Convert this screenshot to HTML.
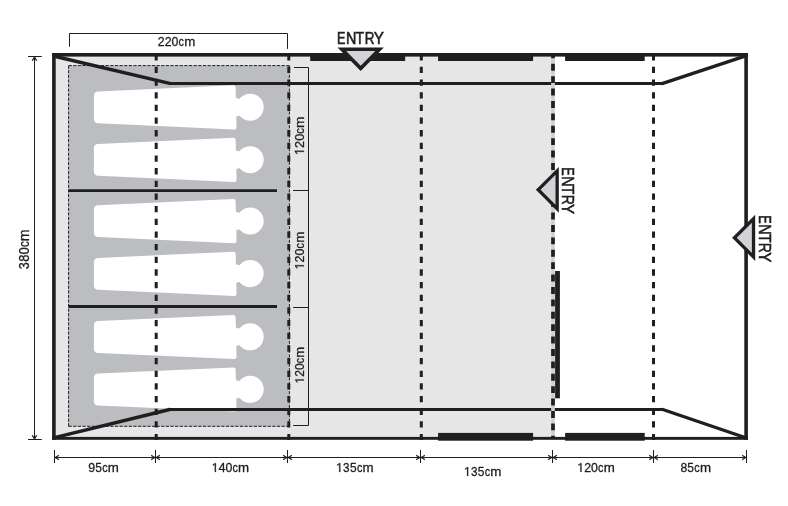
<!DOCTYPE html>
<html><head><meta charset="utf-8"><style>html,body{margin:0;padding:0;background:#fff;width:788px;height:506px;overflow:hidden}svg{display:block;will-change:transform}</style></head>
<body>
<svg width="788" height="506" viewBox="0 0 788 506">
<rect width="788" height="506" fill="#fff"/>
<rect x="54" y="55" width="497.5" height="383" fill="#e6e6e6"/>
<rect x="68.6" y="65.6" width="220.4" height="360.7" fill="#bcbdc1"/>
<path d="M98.20,91.50 L233.20,85.31 Q235.60,85.20 235.65,87.60 L236.55,127.20 Q236.60,129.60 234.20,129.49 L98.20,123.30 Q93.90,123.10 93.90,118.80 L93.90,96.00 Q93.90,91.70 98.20,91.50Z" fill="#fff"/><path d="M235.6,97.60 Q237.6,98.80 240,99.00 L240,115.40 Q237.6,115.60 236.2,116.80Z" fill="#fff"/><circle cx="250.15" cy="107.2" r="13.55" fill="#fff"/>
<path d="M98.20,144.00 L233.20,137.81 Q235.60,137.70 235.65,140.10 L236.55,179.70 Q236.60,182.10 234.20,181.99 L98.20,175.80 Q93.90,175.60 93.90,171.30 L93.90,148.50 Q93.90,144.20 98.20,144.00Z" fill="#fff"/><path d="M235.6,150.10 Q237.6,151.30 240,151.50 L240,167.90 Q237.6,168.10 236.2,169.30Z" fill="#fff"/><circle cx="250.15" cy="159.7" r="13.55" fill="#fff"/>
<path d="M98.20,205.30 L233.20,199.11 Q235.60,199.00 235.65,201.40 L236.55,241.00 Q236.60,243.40 234.20,243.29 L98.20,237.10 Q93.90,236.90 93.90,232.60 L93.90,209.80 Q93.90,205.50 98.20,205.30Z" fill="#fff"/><path d="M235.6,211.40 Q237.6,212.60 240,212.80 L240,229.20 Q237.6,229.40 236.2,230.60Z" fill="#fff"/><circle cx="250.15" cy="221.0" r="13.55" fill="#fff"/>
<path d="M98.20,257.90 L233.20,251.71 Q235.60,251.60 235.65,254.00 L236.55,293.60 Q236.60,296.00 234.20,295.89 L98.20,289.70 Q93.90,289.50 93.90,285.20 L93.90,262.40 Q93.90,258.10 98.20,257.90Z" fill="#fff"/><path d="M235.6,264.00 Q237.6,265.20 240,265.40 L240,281.80 Q237.6,282.00 236.2,283.20Z" fill="#fff"/><circle cx="250.15" cy="273.6" r="13.55" fill="#fff"/>
<path d="M98.20,321.10 L233.20,314.91 Q235.60,314.80 235.65,317.20 L236.55,356.80 Q236.60,359.20 234.20,359.09 L98.20,352.90 Q93.90,352.70 93.90,348.40 L93.90,325.60 Q93.90,321.30 98.20,321.10Z" fill="#fff"/><path d="M235.6,327.20 Q237.6,328.40 240,328.60 L240,345.00 Q237.6,345.20 236.2,346.40Z" fill="#fff"/><circle cx="250.15" cy="336.8" r="13.55" fill="#fff"/>
<path d="M98.20,373.60 L233.20,367.41 Q235.60,367.30 235.65,369.70 L236.55,409.30 Q236.60,411.70 234.20,411.59 L98.20,405.40 Q93.90,405.20 93.90,400.90 L93.90,378.10 Q93.90,373.80 98.20,373.60Z" fill="#fff"/><path d="M235.6,379.70 Q237.6,380.90 240,381.10 L240,397.50 Q237.6,397.70 236.2,398.90Z" fill="#fff"/><circle cx="250.15" cy="389.3" r="13.55" fill="#fff"/>
<line x1="68.6" y1="190.6" x2="277" y2="190.6" stroke="#201f20" stroke-width="2.8"/>
<line x1="68.6" y1="306.5" x2="277" y2="306.5" stroke="#201f20" stroke-width="2.8"/>
<line x1="68.6" y1="65.6" x2="289.4" y2="65.6" stroke="#201f20" stroke-width="1" stroke-dasharray="3.220 1.409"/>
<line x1="68.6" y1="65.6" x2="68.6" y2="426.3" stroke="#201f20" stroke-width="1" stroke-dasharray="3.189 1.395"/>
<line x1="68.6" y1="426.3" x2="289.4" y2="426.3" stroke="#201f20" stroke-width="1" stroke-dasharray="3.220 1.409"/>
<line x1="289.4" y1="65.6" x2="289.4" y2="426.3" stroke="#201f20" stroke-width="1" stroke-dasharray="3.189 1.395"/>
<line x1="169.6" y1="83.45" x2="662.8" y2="83.45" stroke="#201f20" stroke-width="2.9"/>
<line x1="169.6" y1="409.5" x2="662.8" y2="409.5" stroke="#201f20" stroke-width="2.9"/>
<path d="M55.5,56.5 L169.6,83.45 M662.8,83.45 L745,56.2 M55.5,437.3 L169.6,409.5 M662.8,409.5 L745,437.5" fill="none" stroke="#201f20" stroke-width="3.4" stroke-linecap="round"/>
<line x1="156.2" y1="54.15" x2="156.2" y2="440" stroke="#201f20" stroke-width="3" stroke-dasharray="6.3 6.360" stroke-dashoffset="0.000"/>
<line x1="288.8" y1="54.15" x2="288.8" y2="440" stroke="#201f20" stroke-width="3" stroke-dasharray="6.3 6.360" stroke-dashoffset="0.000"/>
<line x1="421.3" y1="54.15" x2="421.3" y2="440" stroke="#201f20" stroke-width="3" stroke-dasharray="6.3 6.360" stroke-dashoffset="0.000"/>
<line x1="653.5" y1="54.15" x2="653.5" y2="440" stroke="#201f20" stroke-width="3" stroke-dasharray="6.3 6.360" stroke-dashoffset="0.000"/>
<line x1="553" y1="57" x2="553" y2="437" stroke="#d0d0d0" stroke-width="3.7"/>
<line x1="553" y1="55" x2="553" y2="439" stroke="#201f20" stroke-width="3.7" stroke-dasharray="6.9 5.500" stroke-dashoffset="3.600"/>
<rect x="52.1" y="53" width="695.9" height="3.6" fill="#201f20"/>
<rect x="52.1" y="436.9" width="695.9" height="2.9" fill="#201f20"/>
<rect x="52.1" y="53" width="3.6" height="386.8" fill="#201f20"/>
<rect x="744.3" y="53" width="3.6" height="386.8" fill="#201f20"/>
<rect x="310.2" y="53" width="95" height="8.0" fill="#201f20"/>
<rect x="438.1" y="53" width="95" height="8.0" fill="#201f20"/>
<rect x="565.1" y="53" width="79.6" height="8.0" fill="#201f20"/>
<rect x="438.1" y="432.9" width="95" height="7.8" fill="#201f20"/>
<rect x="565.1" y="432.9" width="79.6" height="7.8" fill="#201f20"/>
<rect x="555.1" y="271" width="4.8" height="127.3" fill="#201f20"/>
<polygon points="383.85,47.40 337.55,47.40 360.70,70.90" fill="#201f20"/><polygon points="375.29,51.00 346.11,51.00 360.70,65.81" fill="#d3d2d6"/>
<polygon points="558.80,212.70 558.80,166.90 535.90,189.80" fill="#201f20"/><polygon points="555.50,204.73 555.50,174.87 540.57,189.80" fill="#d3d2d6"/>
<polygon points="755.20,260.90 755.20,214.70 732.10,237.80" fill="#201f20"/><polygon points="751.90,252.93 751.90,222.67 736.77,237.80" fill="#d3d2d6"/>
<polyline points="69.5,46.8 69.5,33.5 287.5,33.5 287.5,48.9" fill="none" stroke="#201f20" stroke-width="1"/>
<line x1="34.5" y1="56.5" x2="34.5" y2="439.5" stroke="#201f20" stroke-width="1"/>
<line x1="28" y1="56.5" x2="41.8" y2="56.5" stroke="#201f20" stroke-width="1"/>
<line x1="28" y1="439.5" x2="41.8" y2="439.5" stroke="#201f20" stroke-width="1"/>
<path d="M36.90,60.80 L34.50,57.00 L32.10,60.80" fill="none" stroke="#201f20" stroke-width="1.05"/><path d="M34.50,57.00 L35.94,60.80 L34.50,59.40 L33.06,60.80Z" fill="#201f20"/>
<path d="M32.10,435.20 L34.50,439.00 L36.90,435.20" fill="none" stroke="#201f20" stroke-width="1.05"/><path d="M34.50,439.00 L33.06,435.20 L34.50,436.60 L35.94,435.20Z" fill="#201f20"/>
<polyline points="294.0,67.5 308.5,67.5 308.5,425.5 293.1,425.5" fill="none" stroke="#201f20" stroke-width="1"/>
<line x1="293.1" y1="190.5" x2="308.5" y2="190.5" stroke="#201f20" stroke-width="1"/>
<line x1="293.1" y1="307.5" x2="308.5" y2="307.5" stroke="#201f20" stroke-width="1"/>
<line x1="54.5" y1="457.5" x2="746.5" y2="457.5" stroke="#201f20" stroke-width="1"/>
<line x1="54.5" y1="450" x2="54.5" y2="463" stroke="#201f20" stroke-width="1"/>
<line x1="155.5" y1="450" x2="155.5" y2="463" stroke="#201f20" stroke-width="1"/>
<line x1="287.5" y1="450" x2="287.5" y2="463" stroke="#201f20" stroke-width="1"/>
<line x1="420.5" y1="450" x2="420.5" y2="463" stroke="#201f20" stroke-width="1"/>
<line x1="552.5" y1="450" x2="552.5" y2="463" stroke="#201f20" stroke-width="1"/>
<line x1="653.5" y1="450" x2="653.5" y2="463" stroke="#201f20" stroke-width="1"/>
<line x1="746.5" y1="450" x2="746.5" y2="463" stroke="#201f20" stroke-width="1"/>
<path d="M58.90,455.10 L55.10,457.50 L58.90,459.90" fill="none" stroke="#201f20" stroke-width="1.05"/><path d="M55.10,457.50 L58.90,456.06 L57.50,457.50 L58.90,458.94Z" fill="#201f20"/>
<path d="M151.10,459.90 L154.90,457.50 L151.10,455.10" fill="none" stroke="#201f20" stroke-width="1.05"/><path d="M154.90,457.50 L151.10,458.94 L152.50,457.50 L151.10,456.06Z" fill="#201f20"/>
<path d="M159.90,455.10 L156.10,457.50 L159.90,459.90" fill="none" stroke="#201f20" stroke-width="1.05"/><path d="M156.10,457.50 L159.90,456.06 L158.50,457.50 L159.90,458.94Z" fill="#201f20"/>
<path d="M283.10,459.90 L286.90,457.50 L283.10,455.10" fill="none" stroke="#201f20" stroke-width="1.05"/><path d="M286.90,457.50 L283.10,458.94 L284.50,457.50 L283.10,456.06Z" fill="#201f20"/>
<path d="M291.90,455.10 L288.10,457.50 L291.90,459.90" fill="none" stroke="#201f20" stroke-width="1.05"/><path d="M288.10,457.50 L291.90,456.06 L290.50,457.50 L291.90,458.94Z" fill="#201f20"/>
<path d="M416.10,459.90 L419.90,457.50 L416.10,455.10" fill="none" stroke="#201f20" stroke-width="1.05"/><path d="M419.90,457.50 L416.10,458.94 L417.50,457.50 L416.10,456.06Z" fill="#201f20"/>
<path d="M424.90,455.10 L421.10,457.50 L424.90,459.90" fill="none" stroke="#201f20" stroke-width="1.05"/><path d="M421.10,457.50 L424.90,456.06 L423.50,457.50 L424.90,458.94Z" fill="#201f20"/>
<path d="M548.10,459.90 L551.90,457.50 L548.10,455.10" fill="none" stroke="#201f20" stroke-width="1.05"/><path d="M551.90,457.50 L548.10,458.94 L549.50,457.50 L548.10,456.06Z" fill="#201f20"/>
<path d="M556.90,455.10 L553.10,457.50 L556.90,459.90" fill="none" stroke="#201f20" stroke-width="1.05"/><path d="M553.10,457.50 L556.90,456.06 L555.50,457.50 L556.90,458.94Z" fill="#201f20"/>
<path d="M649.10,459.90 L652.90,457.50 L649.10,455.10" fill="none" stroke="#201f20" stroke-width="1.05"/><path d="M652.90,457.50 L649.10,458.94 L650.50,457.50 L649.10,456.06Z" fill="#201f20"/>
<path d="M657.90,455.10 L654.10,457.50 L657.90,459.90" fill="none" stroke="#201f20" stroke-width="1.05"/><path d="M654.10,457.50 L657.90,456.06 L656.50,457.50 L657.90,458.94Z" fill="#201f20"/>
<path d="M742.10,459.90 L745.90,457.50 L742.10,455.10" fill="none" stroke="#201f20" stroke-width="1.05"/><path d="M745.90,457.50 L742.10,458.94 L743.50,457.50 L742.10,456.06Z" fill="#201f20"/>
<g font-family='"Liberation Sans", sans-serif' fill="#201f20" stroke="#201f20" stroke-width="0.3">
<g transform="translate(338.00,43.70)"><text transform="translate(-1.04,0) scale(0.7432,1.0)" font-size="17.01" stroke-width="0.6">E</text><text transform="translate(7.93,0) scale(0.8421,1.0)" font-size="17.01" stroke-width="0.6">N</text><text transform="translate(17.58,0) scale(0.8320,1.0)" font-size="17.01" stroke-width="0.6">T</text><text transform="translate(26.69,0) scale(0.7923,1.0)" font-size="17.01" stroke-width="0.6">R</text><text transform="translate(35.86,0) scale(0.8966,1.0)" font-size="17.01" stroke-width="0.6">Y</text></g>
<g transform="translate(561.90,168.20) rotate(90)"><text transform="translate(-1.04,0) scale(0.7432,1.0)" font-size="17.01" stroke-width="0.6">E</text><text transform="translate(7.93,0) scale(0.8421,1.0)" font-size="17.01" stroke-width="0.6">N</text><text transform="translate(17.58,0) scale(0.8320,1.0)" font-size="17.01" stroke-width="0.6">T</text><text transform="translate(26.69,0) scale(0.7923,1.0)" font-size="17.01" stroke-width="0.6">R</text><text transform="translate(35.86,0) scale(0.8966,1.0)" font-size="17.01" stroke-width="0.6">Y</text></g>
<g transform="translate(758.70,216.30) rotate(90)"><text transform="translate(-1.04,0) scale(0.7432,1.0)" font-size="17.01" stroke-width="0.6">E</text><text transform="translate(7.93,0) scale(0.8421,1.0)" font-size="17.01" stroke-width="0.6">N</text><text transform="translate(17.58,0) scale(0.8320,1.0)" font-size="17.01" stroke-width="0.6">T</text><text transform="translate(26.69,0) scale(0.7923,1.0)" font-size="17.01" stroke-width="0.6">R</text><text transform="translate(35.86,0) scale(0.8966,1.0)" font-size="17.01" stroke-width="0.6">Y</text></g>
<g transform="translate(157.81,45.80)"><text transform="translate(-0.03,0) scale(0.9711,1.0)" font-size="12.70">2</text><text transform="translate(6.87,0) scale(0.9711,1.0)" font-size="12.70">2</text><text transform="translate(13.80,0) scale(0.9720,1.0)" font-size="12.70">0</text><text transform="translate(20.81,0) scale(0.8568,1.0)" font-size="12.70">c</text><text transform="translate(26.37,0) scale(1.0468,1.0)" font-size="12.70">m</text></g>
<g transform="translate(29.00,269.27) rotate(-90)"><text transform="translate(0.10,0) scale(0.9264,1.07)" font-size="13.53">3</text><text transform="translate(7.43,0) scale(0.9541,1.07)" font-size="13.53">8</text><text transform="translate(14.71,0) scale(0.9720,1.07)" font-size="13.53">0</text><text transform="translate(22.18,0) scale(0.8568,1.07)" font-size="13.53">c</text><text transform="translate(28.11,0) scale(1.0468,1.07)" font-size="13.53">m</text></g>
<g transform="translate(303.90,155.06) rotate(-90)"><path transform="translate(0.05,0) scale(0.00613,-0.00638)" vector-effect="non-scaling-stroke" d="M515,0 L515,1237 L197,1010 L197,1180 L530,1409 L696,1409 L696,0 Z"/><text transform="translate(7.07,0) scale(0.9711,1.0)" font-size="13.08">2</text><text transform="translate(14.22,0) scale(0.9720,1.0)" font-size="13.08">0</text><text transform="translate(21.43,0) scale(0.8568,1.0)" font-size="13.08">c</text><text transform="translate(27.16,0) scale(1.0468,1.0)" font-size="13.08">m</text></g>
<g transform="translate(303.90,269.43) rotate(-90)"><path transform="translate(0.05,0) scale(0.00599,-0.00624)" vector-effect="non-scaling-stroke" d="M515,0 L515,1237 L197,1010 L197,1180 L530,1409 L696,1409 L696,0 Z"/><text transform="translate(6.91,0) scale(0.9711,1.0)" font-size="12.79">2</text><text transform="translate(13.90,0) scale(0.9720,1.0)" font-size="12.79">0</text><text transform="translate(20.96,0) scale(0.8568,1.0)" font-size="12.79">c</text><text transform="translate(26.56,0) scale(1.0468,1.0)" font-size="12.79">m</text></g>
<g transform="translate(303.90,383.50) rotate(-90)"><path transform="translate(0.05,0) scale(0.00583,-0.00607)" vector-effect="non-scaling-stroke" d="M515,0 L515,1237 L197,1010 L197,1180 L530,1409 L696,1409 L696,0 Z"/><text transform="translate(6.72,0) scale(0.9711,1.0)" font-size="12.43">2</text><text transform="translate(13.51,0) scale(0.9720,1.0)" font-size="12.43">0</text><text transform="translate(20.37,0) scale(0.8568,1.0)" font-size="12.43">c</text><text transform="translate(25.82,0) scale(1.0468,1.0)" font-size="12.43">m</text></g>
<g transform="translate(88.26,471.90)"><text transform="translate(-0.05,0) scale(0.9807,1.0)" font-size="12.70">9</text><text transform="translate(6.97,0) scale(0.9398,1.0)" font-size="12.70">5</text><text transform="translate(13.92,0) scale(0.8568,1.0)" font-size="12.70">c</text><text transform="translate(19.48,0) scale(1.0468,1.0)" font-size="12.70">m</text></g>
<g transform="translate(211.68,471.90)"><path transform="translate(0.05,0) scale(0.00595,-0.00620)" vector-effect="non-scaling-stroke" d="M515,0 L515,1237 L197,1010 L197,1180 L530,1409 L696,1409 L696,0 Z"/><text transform="translate(6.83,0) scale(1.0061,1.0)" font-size="12.70">4</text><text transform="translate(13.80,0) scale(0.9720,1.0)" font-size="12.70">0</text><text transform="translate(20.81,0) scale(0.8568,1.0)" font-size="12.70">c</text><text transform="translate(26.37,0) scale(1.0468,1.0)" font-size="12.70">m</text></g>
<g transform="translate(336.08,471.90)"><path transform="translate(0.05,0) scale(0.00595,-0.00620)" vector-effect="non-scaling-stroke" d="M515,0 L515,1237 L197,1010 L197,1180 L530,1409 L696,1409 L696,0 Z"/><text transform="translate(6.98,0) scale(0.9264,1.0)" font-size="12.70">3</text><text transform="translate(13.86,0) scale(0.9398,1.0)" font-size="12.70">5</text><text transform="translate(20.81,0) scale(0.8568,1.0)" font-size="12.70">c</text><text transform="translate(26.37,0) scale(1.0468,1.0)" font-size="12.70">m</text></g>
<g transform="translate(463.98,475.90)"><path transform="translate(0.05,0) scale(0.00595,-0.00620)" vector-effect="non-scaling-stroke" d="M515,0 L515,1237 L197,1010 L197,1180 L530,1409 L696,1409 L696,0 Z"/><text transform="translate(6.98,0) scale(0.9264,1.0)" font-size="12.70">3</text><text transform="translate(13.86,0) scale(0.9398,1.0)" font-size="12.70">5</text><text transform="translate(20.81,0) scale(0.8568,1.0)" font-size="12.70">c</text><text transform="translate(26.37,0) scale(1.0468,1.0)" font-size="12.70">m</text></g>
<g transform="translate(577.28,471.90)"><path transform="translate(0.05,0) scale(0.00595,-0.00620)" vector-effect="non-scaling-stroke" d="M515,0 L515,1237 L197,1010 L197,1180 L530,1409 L696,1409 L696,0 Z"/><text transform="translate(6.87,0) scale(0.9711,1.0)" font-size="12.70">2</text><text transform="translate(13.80,0) scale(0.9720,1.0)" font-size="12.70">0</text><text transform="translate(20.81,0) scale(0.8568,1.0)" font-size="12.70">c</text><text transform="translate(26.37,0) scale(1.0468,1.0)" font-size="12.70">m</text></g>
<g transform="translate(680.40,471.90)"><text transform="translate(0.08,0) scale(0.9541,1.0)" font-size="12.70">8</text><text transform="translate(6.97,0) scale(0.9398,1.0)" font-size="12.70">5</text><text transform="translate(13.92,0) scale(0.8568,1.0)" font-size="12.70">c</text><text transform="translate(19.48,0) scale(1.0468,1.0)" font-size="12.70">m</text></g>
</g>
</svg>
</body></html>
